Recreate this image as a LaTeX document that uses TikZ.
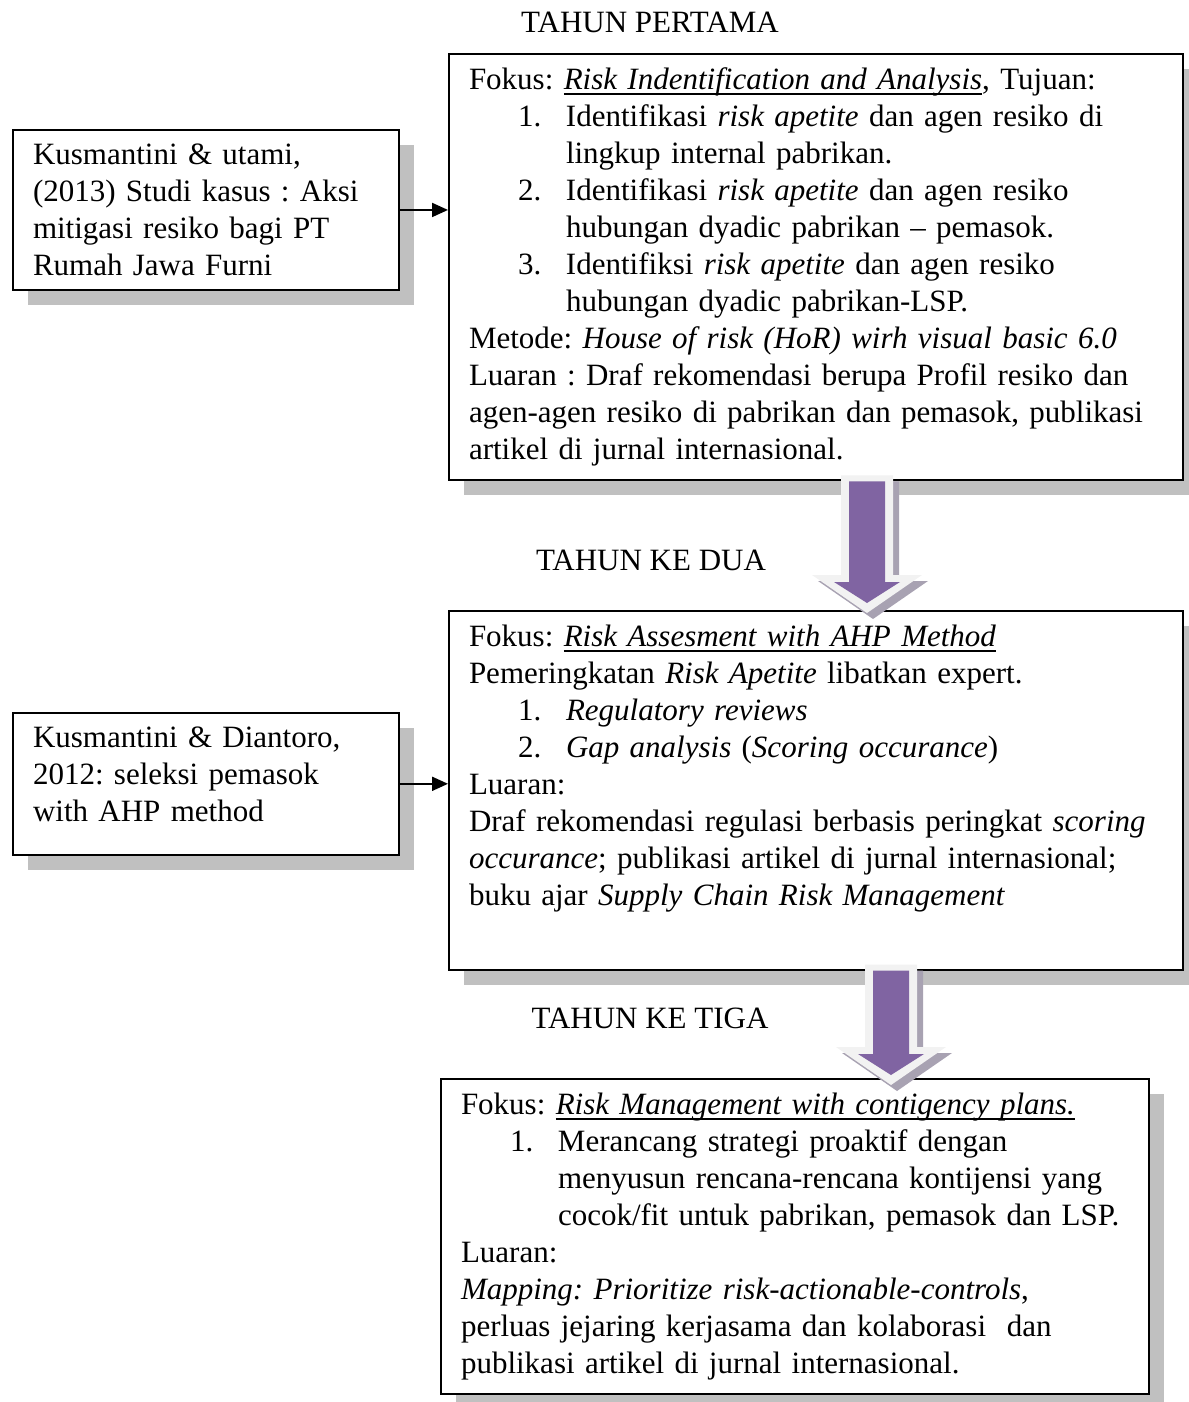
\documentclass[tikz,border=0pt]{standalone}
\usepackage{fontspec}
\setmainfont{Liberation Serif}
\usetikzlibrary{positioning,calc,shadows,arrows.meta}
\frenchspacing
\hyphenpenalty=10000
\exhyphenpenalty=10000

\definecolor{bayangan}{HTML}{C0C0C0}
\definecolor{ungu}{HTML}{8064A2}
\definecolor{bayanganpanah}{HTML}{A8A2B2}

% numbered line with hanging indent
\newcommand{\butir}[2]{\par{\leftskip=48.5pt\rightskip=0pt plus 1fil minus 15pt\noindent\llap{\makebox[24pt][l]{#1}}#2\par}}
% underline close to the baseline
\newcommand{\garis}[1]{{\setbox0\hbox{#1}\rlap{\rule[-2.6pt]{\wd0}{0.8pt}}\box0}}

\begin{document}
\begin{tikzpicture}[x=0.5pt,y=-0.5pt,
  kotak/.style={draw,line width=1pt,fill=white,anchor=north west,align=left,inner xsep=10pt,inner ysep=7pt,
    font=\fontsize{15.5pt}{18.5pt}\selectfont,
    drop shadow={shadow xshift=7.5pt,shadow yshift=-7.5pt,fill=bayangan,opacity=1}},
  judul/.style={font=\fontsize{15.5pt}{18.5pt}\selectfont},
  link/.style={-{Triangle[length=8pt,width=7pt]},line width=1pt},
  panah/.style={fill=ungu},
  bingkai/.style={fill=white!95!black,preaction={fill=bayanganpanah,transform canvas={shift={(3pt,-3pt)}}}},
]
\useasboundingbox (0,0) rectangle (1188,1402);

% Year headings
\node[judul] (t1) at (650,22) {TAHUN PERTAMA};
\node[judul] (t2) at (651,560) {TAHUN KE DUA};
\node[judul] (t3) at (650,1018) {TAHUN KE TIGA};

% Year 1
\node[kotak,text width=347pt] (box1) at (448,53) {Fokus: \garis{\textit{Risk Indentification and Analysis}}, Tujuan:
\butir{1.}{Identifikasi \textit{risk apetite} dan agen resiko di\\lingkup internal pabrikan.}
\butir{2.}{Identifikasi \textit{risk apetite} dan agen resiko\\hubungan dyadic pabrikan -- pemasok.}
\butir{3.}{Identifiksi \textit{risk apetite} dan agen resiko\\hubungan dyadic pabrikan-LSP.}
Metode: \textit{House of risk (HoR) wirh visual basic 6.0}\\
Luaran : Draf rekomendasi berupa Profil resiko dan\\
agen-agen resiko di pabrikan dan pemasok, publikasi\\
artikel di jurnal internasional.};
\node[kotak,text width=173pt] (lb1) at (12,129) {Kusmantini \& utami,\\(2013) Studi kasus : Aksi\\mitigasi resiko bagi PT\\Rumah Jawa Furni};

% Year 2
\node[kotak,text width=347pt] (box2) at (448,610) {Fokus: \garis{\textit{Risk Assesment with AHP Method}}\\
Pemeringkatan \textit{Risk Apetite} libatkan expert.
\butir{1.}{\textit{Regulatory reviews}}
\butir{2.}{\textit{Gap analysis} (\textit{Scoring occurance})}
Luaran:\\
Draf rekomendasi regulasi berbasis peringkat \textit{scoring}\\
\textit{occurance}; publikasi artikel di jurnal internasional;\\
buku ajar \textit{Supply Chain Risk Management}\\
\rule[-6.5pt]{0pt}{6.5pt}};
\node[kotak,text width=173pt] (lb2) at (12,712) {Kusmantini \& Diantoro,\\2012: seleksi pemasok\\with AHP method\rule[-9.5pt]{0pt}{9.5pt}};

% Year 3
\node[kotak,text width=334pt] (box3) at (440,1078) {Fokus: \garis{\textit{Risk Management with contigency plans.}}
\butir{1.}{Merancang strategi proaktif dengan\\menyusun rencana-rencana kontijensi yang\\cocok/fit untuk pabrikan, pemasok dan LSP.}
Luaran:\\
\textit{Mapping: Prioritize risk-actionable-controls},\\
perluas jejaring kerjasama dan kolaborasi\ \ dan\\
publikasi artikel di jurnal internasional.};

% Links from previous studies
\draw[link] (lb1.east) -- (lb1.east -| box1.west);
\draw[link] (lb2.east) -- (lb2.east -| box2.west);

% Block arrows between years
\coordinate (p1t) at ($(box1.south west)+(419,0)$);
\coordinate (p1b) at ($(p1t |- box2.north)+(0,3)$);
\coordinate (p2t) at ($(box2.south west)+(443,0)$);
\coordinate (p2b) at ($(p2t |- box3.north)+(0,7)$);
\foreach \a/\b in {p1t/p1b,p2t/p2b}{
  \fill[bingkai] ($(\a)+(-26,-6)$) -- ($(\b)+(-26,-38)$) -- ($(\b)+(-55,-38)$) -- (\b)
    -- ($(\b)+(55,-38)$) -- ($(\b)+(26,-38)$) -- ($(\a)+(26,-6)$) -- cycle;
  \fill[panah] ($(\a)+(-18,0)$) -- ($(\b)+(-18,-31)$) -- ($(\b)+(-33,-31)$) -- ($(\b)+(0,-10)$)
    -- ($(\b)+(33,-31)$) -- ($(\b)+(18,-31)$) -- ($(\a)+(18,0)$) -- cycle;
}

\end{tikzpicture}
\end{document}
